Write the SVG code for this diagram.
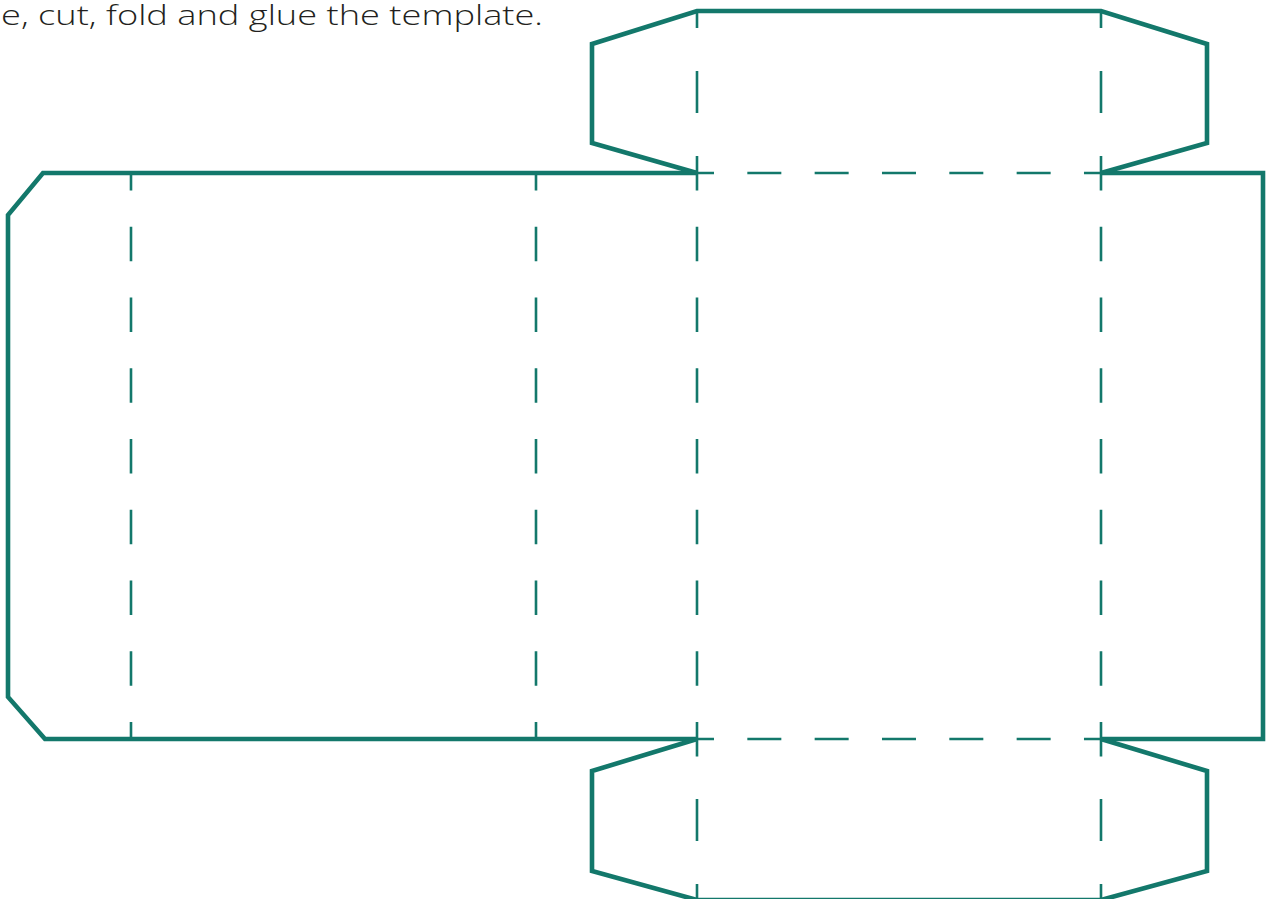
<svg xmlns="http://www.w3.org/2000/svg" width="1275" height="899" viewBox="0 0 1275 899">
<style>
.cut{fill:none;stroke:#13786b;stroke-width:4.6;stroke-linejoin:miter;stroke-miterlimit:10}
.fold{fill:none;stroke:#13786b;stroke-width:2.6}
.fv{stroke-dasharray:34.5 36.25}
.fh{stroke-dasharray:34 33.33}
.cap{font-family:"Open Sans","Liberation Sans",sans-serif;font-size:28px;font-weight:300;fill:#231f20}
</style>
<rect width="1275" height="899" fill="#ffffff"/>
<text class="cap" x="1" y="25" textLength="542" lengthAdjust="spacingAndGlyphs">e, cut, fold and glue the template.</text>
<g id="folds">
<line class="fold fv" x1="131" y1="173" x2="131" y2="739" stroke-dashoffset="17"/>
<line class="fold fv" x1="536" y1="173" x2="536" y2="739" stroke-dashoffset="17"/>
<line class="fold fv" x1="697" y1="156" x2="697" y2="757"/>
<line class="fold fv" x1="1101" y1="156" x2="1101" y2="757"/>
<path class="fold" d="M697 11V28M697 71V113M697 799V841M697 884V900M1101 11V28M1101 71V113M1101 799V841M1101 884V900"/>
<line class="fold fh" x1="680" y1="173" x2="1118" y2="173"/>
<line class="fold fh" x1="680" y1="739" x2="1118" y2="739"/>
</g>
<g id="template">
<path id="left-body" class="cut" d="M697 173H43L8 215V697L45 739H697"/>
<path id="right-panel" class="cut" d="M1101 173H1263V739H1101"/>
<path id="top-flap" class="cut" d="M697 173L592 143V44L697 11H1101L1207 44V143L1101 173"/>
<path id="bottom-flap" class="cut" d="M697 739L592 771V871L697 900H1101L1207 871V771L1101 739"/>
</g>
</svg>
